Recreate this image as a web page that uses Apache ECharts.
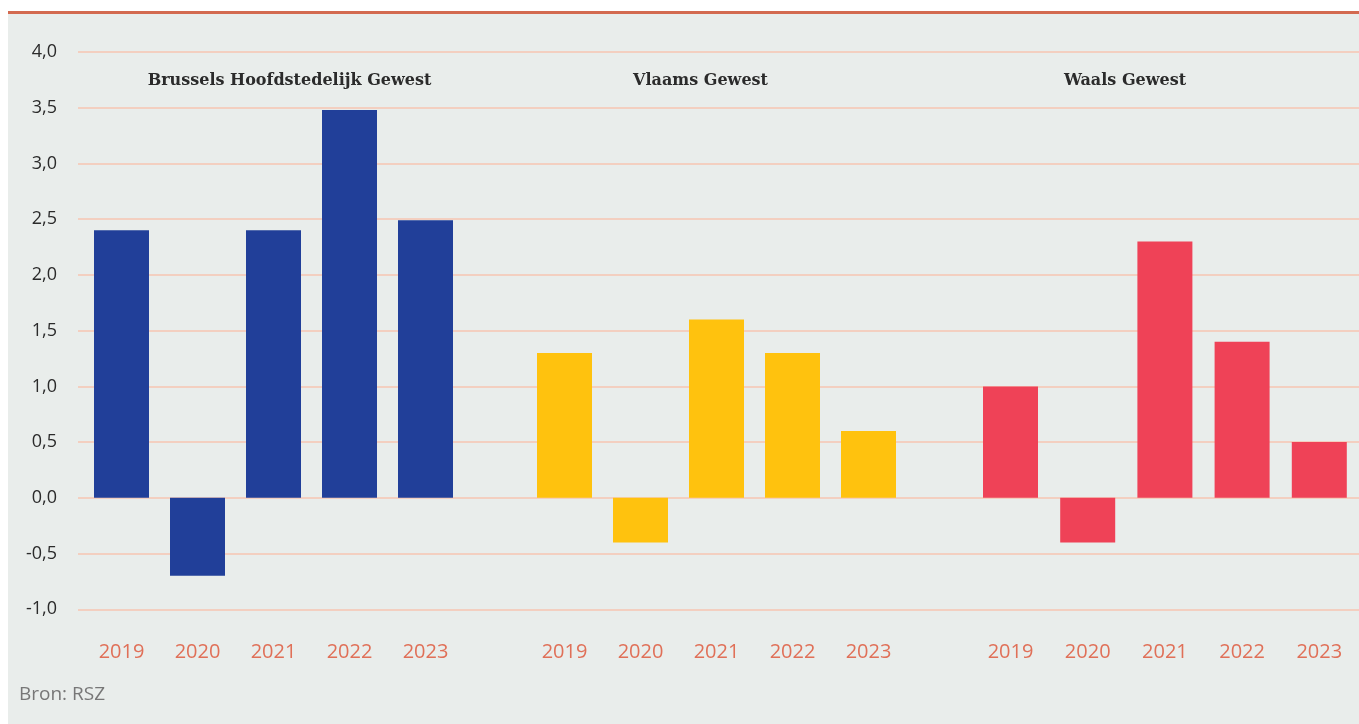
<!DOCTYPE html>
<html>
<head>
<meta charset="utf-8">
<script src="https://cdn.jsdelivr.net/npm/echarts@6/dist/echarts.min.js"></script>
<style>
  html, body { margin: 0; padding: 0; background: #ffffff; width: 1359px; height: 724px; overflow: hidden; }
  #panel { position: absolute; left: 8px; top: 14px; width: 1351px; height: 710px; background: #e9edeb; }
  #topline { position: absolute; left: 8px; top: 11px; width: 1351px; height: 3px; background: #d36a50; }
  #chart { position: absolute; left: 0; top: 0; width: 1359px; height: 724px; }
</style>
</head>
<body>
<div id="panel"></div>
<div id="topline"></div>
<div id="chart"></div>
<script>
const categories = ['2019', '2020', '2021', '2022', '2023'];
const regions = ['Brussels Hoofdstedelijk Gewest', 'Vlaams Gewest', 'Waals Gewest'];
const brussels = [2.4, -0.7, 2.4, 3.48, 2.49];
const vlaanderen = [1.3, -0.4, 1.6, 1.3, 0.6];
const wallonie = [1.0, -0.4, 2.3, 1.4, 0.5];
const yMin = -1.0, yMax = 4.0, yStep = 0.5;
const source = 'Bron: RSZ';

(function () {
const colors = ['#213f99', '#ffc20e', '#ef4257'];
const seriesData = [brussels, vlaanderen, wallonie];
const barGrids = [
  { left: 83.5, width: 380 },
  { left: 526.5, width: 380 },
  { left: 971.9, width: 386 }
];
const titleX = [289.5, 700.5, 1125];

const gTop = 52, gBottom = 114.7;
const grids = [{ left: 78, right: 0, top: gTop, bottom: gBottom }];
barGrids.forEach(g => grids.push({ left: g.left, width: g.width, top: gTop, bottom: gBottom }));

const xAxes = [{ gridIndex: 0, type: 'category', data: [''], show: false }];
const yAxes = [{
  gridIndex: 0, type: 'value', min: yMin, max: yMax, interval: yStep,
  axisLine: { show: false }, axisTick: { show: false },
  axisLabel: {
    margin: 21, color: '#2b2b2b', fontFamily: 'Open Sans', fontSize: 18,
    formatter: v => v.toFixed(1).replace('.', ',')
  },
  splitLine: { lineStyle: { color: '#f3cfc0', width: 2 } }
}];
const series = [];
for (let i = 0; i < 3; i++) {
  xAxes.push({
    gridIndex: i + 1, type: 'category', data: categories,
    axisLine: { show: false }, axisTick: { show: false },
    axisLabel: { margin: 33, color: '#e07058', fontFamily: 'Open Sans', fontSize: 20 }
  });
  yAxes.push({ gridIndex: i + 1, type: 'value', min: yMin, max: yMax, interval: yStep, show: false, splitLine: { show: false } });
  series.push({
    type: 'bar', xAxisIndex: i + 1, yAxisIndex: i + 1, data: seriesData[i],
    barWidth: 55, itemStyle: { color: colors[i] }, silent: true
  });
}

const graphics = regions.map((r, i) => ({
  type: 'text', x: titleX[i], y: 81,
  style: { text: r, fill: '#2b2b2b', font: 'bold 16px "DejaVu Serif"', textAlign: 'center', textVerticalAlign: 'middle' }
}));
graphics.push({
  type: 'text', x: 19, y: 695,
  style: { text: source, fill: '#777777', font: '19px "Open Sans"', textAlign: 'left', textVerticalAlign: 'middle' }
});

const chart = echarts.init(document.getElementById('chart'));
chart.setOption({
  animation: false,
  backgroundColor: 'transparent',
  grid: grids,
  xAxis: xAxes,
  yAxis: yAxes,
  series: series,
  graphic: graphics
});
})();
</script>
</body>
</html>
